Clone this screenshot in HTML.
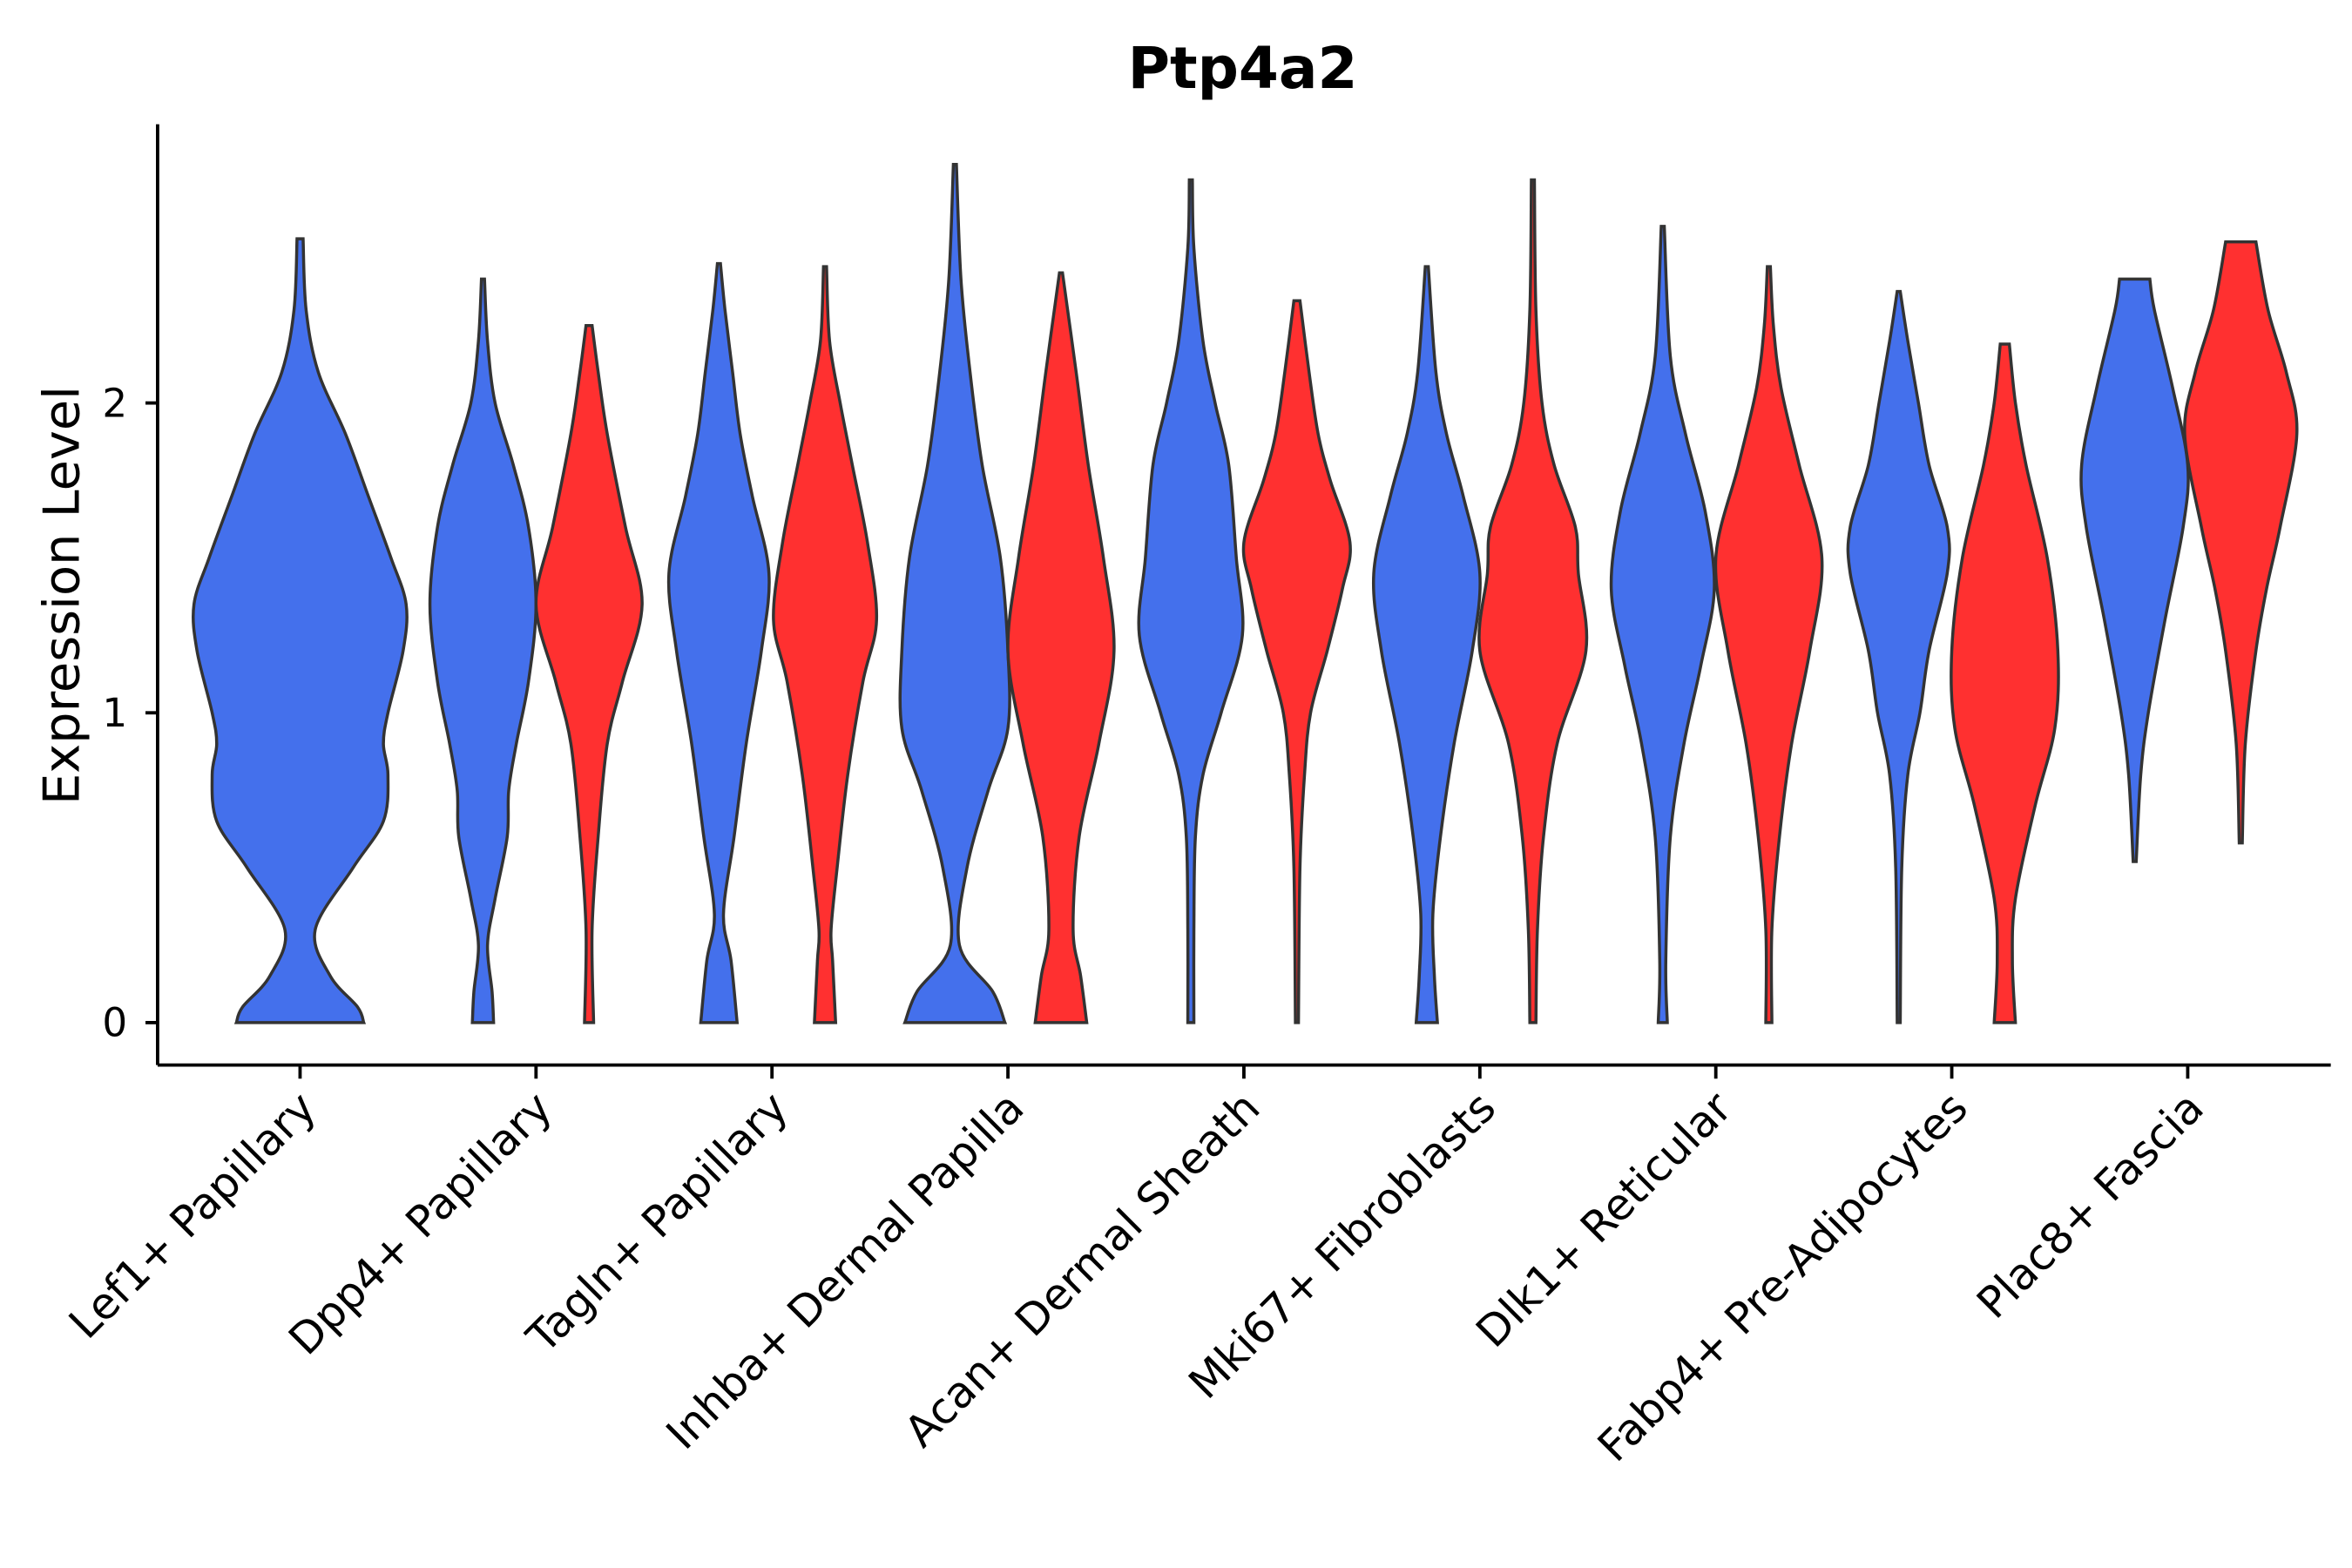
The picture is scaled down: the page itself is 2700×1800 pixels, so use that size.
<!DOCTYPE html>
<html><head><meta charset="utf-8">
<style>
html,body{margin:0;padding:0;background:#fff;}
svg{display:block;font-family:"DejaVu Sans","Liberation Sans",sans-serif;}
</style></head>
<body>
<svg id="chart" width="2700" height="1800" viewBox="0 0 1552 1035" preserveAspectRatio="none" xmlns="http://www.w3.org/2000/svg">
<rect width="1552" height="1035" fill="#fff"/>
<text x="820" y="58" text-anchor="middle" font-size="38" font-weight="bold">Ptp4a2</text>
<g id="violins"></g>
<g id="axes"></g>
</svg>
<script>
const categories = ["Lef1+ Papillary","Dpp4+ Papillary","Tagln+ Papillary","Inhba+ Dermal Papilla","Acan+ Dermal Sheath","Mki67+ Fibroblasts","Dlk1+ Reticular","Fabp4+ Pre-Adipocytes","Plac8+ Fascia"];
const yTicks = [0,1,2];
const violinCats = [0,1,1,2,2,3,3,4,4,5,5,6,6,7,7,8,8];
const violinGroups = ["single","blue","red","blue","red","blue","red","blue","red","blue","red","blue","red","blue","red","blue","red"];
const violinLevels = [
 [0,0.05,0.15,0.3,0.5,0.65,0.8,0.9,1.0,1.2,1.35,1.5,1.7,1.9,2.1,2.3,2.53],
 [0,0.1,0.25,0.4,0.6,0.75,0.9,1.1,1.35,1.6,1.8,2.0,2.2,2.4],
 [0,0.3,0.6,0.9,1.1,1.35,1.6,1.9,2.1,2.25],
 [0,0.2,0.35,0.6,0.9,1.2,1.45,1.7,1.9,2.1,2.3,2.45],
 [0,0.2,0.3,0.5,0.8,1.1,1.3,1.55,1.8,2.0,2.2,2.44],
 [0,0.1,0.25,0.5,0.75,0.95,1.2,1.5,1.8,2.1,2.4,2.77],
 [0,0.15,0.3,0.6,0.9,1.2,1.5,1.8,2.1,2.42],
 [0,0.3,0.6,0.8,1.0,1.25,1.5,1.8,2.0,2.2,2.5,2.72],
 [0,0.5,0.8,1.0,1.2,1.4,1.55,1.75,1.9,2.1,2.33],
 [0,0.15,0.35,0.6,0.9,1.2,1.45,1.7,1.9,2.1,2.44],
 [0,0.3,0.6,0.9,1.2,1.45,1.6,1.8,2.0,2.3,2.72],
 [0,0.2,0.6,0.9,1.15,1.4,1.65,1.9,2.15,2.57],
 [0,0.3,0.6,0.9,1.2,1.5,1.8,2.05,2.25,2.44],
 [0,0.5,0.8,1.0,1.2,1.45,1.6,1.8,2.0,2.2,2.36],
 [0,0.2,0.4,0.7,0.95,1.2,1.5,1.8,2.0,2.19],
 [0.52,0.8,1.0,1.3,1.6,1.8,2.05,2.3,2.4],
 [0.58,0.9,1.2,1.4,1.6,1.9,2.1,2.3,2.52]
];
const violinDensity = [
 [42,38,20,10,35,55,58,55,58,68,70,60,45,30,12,4,2],
 [7,6,3,8,16,17,22,30,35,30,20,8,3,1],
 [3,2,6,12,22,35,24,12,6,2],
 [12,8,3,10,18,28,33,22,14,9,4,1],
 [7,5,4,8,15,25,34,28,18,10,3,1],
 [33,25,3,8,22,35,35,30,18,10,4,1],
 [17,13,8,12,25,35,28,18,10,1],
 [2,2,3,8,20,34,30,25,16,8,2,1],
 [1,2,5,9,20,30,35,22,14,8,2],
 [7,5,4,9,18,30,35,24,13,6,1],
 [2,3,7,16,35,30,28,14,6,2,1],
 [3,2,5,14,25,34,28,15,5,1],
 [2,2,7,15,27,35,20,8,3,1],
 [1,2,6,14,20,32,32,20,13,6,1],
 [7,5,7,20,33,35,28,14,7,3],
 [1,4,9,20,32,35,25,13,10],
 [1,3,10,17,26,37,30,18,10]
];
const NS="http://www.w3.org/2000/svg";
const X0=104, X1=1538, Y0=703;
const yScale = v => 675 - v*204.5;
const catX = i => 198 + i*155.7;
const groupOffset = g => g==="blue"?-35:(g==="red"?35:0);
const colors = {single:"#4470EC",blue:"#4470EC",red:"#FF3030"};
const vg=document.getElementById('violins');
function smoothPts(pts){
  let d="";
  for(let i=0;i<pts.length-1;i++){
    const p0=pts[Math.max(0,i-1)],p1=pts[i],p2=pts[i+1],p3=pts[Math.min(pts.length-1,i+2)];
    const c1=[p1[0]+(p2[0]-p0[0])/6,p1[1]+(p2[1]-p0[1])/6];
    const c2=[p2[0]-(p3[0]-p1[0])/6,p2[1]-(p3[1]-p1[1])/6];
    d+=` C${c1[0].toFixed(2)},${c1[1].toFixed(2)} ${c2[0].toFixed(2)},${c2[1].toFixed(2)} ${p2[0].toFixed(2)},${p2[1].toFixed(2)}`;
  }
  return d;
}
violinCats.forEach((ci,k)=>{
  const cx=catX(ci)+groupOffset(violinGroups[k]);
  const lv=violinLevels[k], dn=violinDensity[k];
  const left=lv.map((v,j)=>[cx-dn[j],yScale(v)]);
  const right=lv.map((v,j)=>[cx+dn[j],yScale(v)]).reverse();
  let d=`M${left[0][0]},${left[0][1]}`+smoothPts(left)+` L${right[0][0]},${right[0][1]}`+smoothPts(right)+" Z";
  const p=document.createElementNS(NS,'path');
  p.setAttribute('d',d);
  p.setAttribute('fill',colors[violinGroups[k]]);
  p.setAttribute('stroke','#333');
  p.setAttribute('stroke-width','2');
  
  
  vg.appendChild(p);
});
const ag=document.getElementById('axes');
function el(tag,attrs,text){const e=document.createElementNS(NS,tag);for(const a in attrs)e.setAttribute(a,attrs[a]);if(text!==undefined)e.textContent=text;ag.appendChild(e);return e;}
const yAxis=el('line',{x1:X0,y1:82,x2:X0,y2:Y0,stroke:'#000','stroke-width':2.2});


const xAxis=el('line',{x1:X0,y1:Y0,x2:X1,y2:Y0,stroke:'#000','stroke-width':2.2});


yTicks.forEach(t=>{
  const y=yScale(t);
  el('line',{x1:X0-8,y1:y,x2:X0,y2:y,stroke:'#000','stroke-width':2.2});
  const tl=el('text',{x:X0-20,y:y+9,'text-anchor':'end','font-size':26},String(t));
  
  
});
categories.forEach((c,i)=>{
  const x=catX(i);
  el('line',{x1:x,y1:Y0,x2:x,y2:Y0+9,stroke:'#000','stroke-width':2.2});
  const t=el('text',{x:x+12,y:Y0+30,'text-anchor':'end','font-size':28.5,transform:`rotate(-45 ${x+12} ${Y0+30})`},c);
  
  
});
const yl=el('text',{x:52,y:393,'text-anchor':'middle','font-size':33,transform:'rotate(-90 52 393)'},'Expression Level');


</script>
</body></html>
